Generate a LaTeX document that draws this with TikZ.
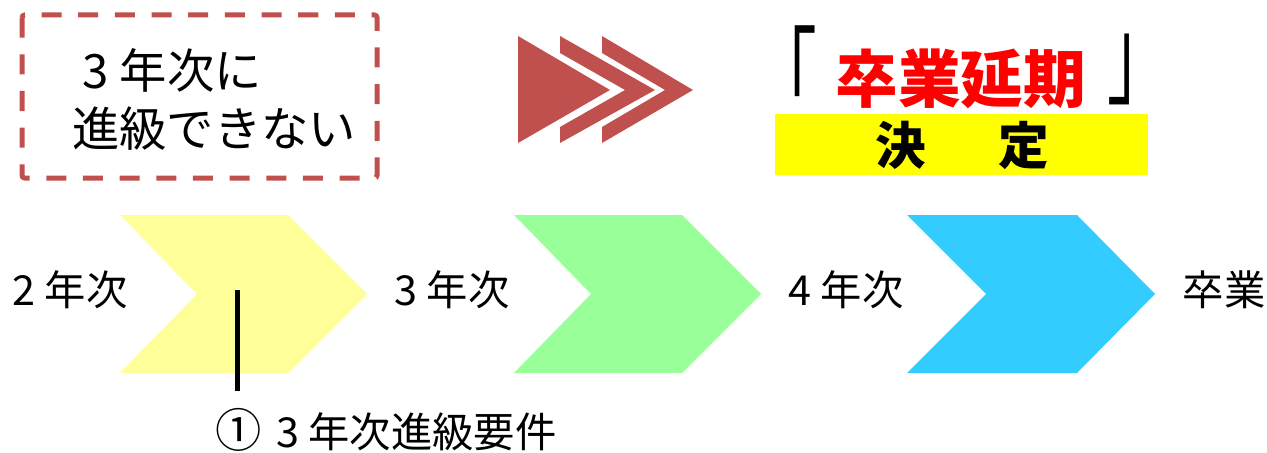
\documentclass[tikz,border=0pt]{standalone}
\usepackage{fontspec}
\setmainfont{Noto Sans CJK JP}
\definecolor{accred}{HTML}{C0504D}
\definecolor{chyel}{HTML}{FFFF99}
\definecolor{chgrn}{HTML}{99FF99}
\definecolor{chblu}{HTML}{33CCFF}
\definecolor{hiyel}{HTML}{FFFF00}
\definecolor{titred}{HTML}{FF0000}
\begin{document}
\begin{tikzpicture}[x=0.75pt,y=-0.75pt,
  lbl/.style={inner sep=0pt, font=\fontsize{31}{36}\selectfont},
  boxtext/.style={inner sep=0pt, align=left, font=\fontsize{35.5}{43.5}\selectfont},
  dashbox/.style={draw=accred, line width=3.75pt, dash pattern=on 15pt off 12.5pt, rounded corners=2pt},
  arrowfill/.style={fill=accred, draw=none},
  stem/.style={line width=3.75pt, draw=black}]
\useasboundingbox (0,0) rectangle (1267,453);

% dashed box with text
\draw[dashbox] (22,15) rectangle (377,178);
\node[boxtext, anchor=west] (cannot) at (72,99) {\hspace{8pt}3 年次に\\進級できない};

% triple arrow
\fill[arrowfill] (518,36) -- (610,90) -- (518,143) -- cycle;
\fill[arrowfill] (560,36) -- (655,90) -- (560,143) -- (560,127) -- (625,90) -- (560,53) -- cycle;
\fill[arrowfill] (602,36) -- (693,90) -- (602,143) -- (602,127) -- (665,90) -- (602,53) -- cycle;

% title
\node[inner sep=0pt, font=\fontsize{47}{52}\selectfont] (title) at (962,72)
  {\raisebox{-12pt}{\scalebox{1}[1.75]{「}}\hspace{14pt}\textcolor{titred}{\bfseries 卒業延期}\hspace{16pt}\raisebox{5pt}{\scalebox{1}[1.75]{」}}};
\fill[hiyel] (775,114) rectangle (1148,175);
\node[inner sep=0pt, font=\fontsize{38}{42}\selectfont\bfseries] (decided) at (962,145) {決\hspace{54pt}定};

% chevrons
\fill[chyel] (120,215) -- (288,215) -- (367,294) -- (288,373) -- (120,373) -- (197,294) -- cycle;
\fill[chgrn] (514,215) -- (682,215) -- (761,294) -- (682,373) -- (514,373) -- (591,294) -- cycle;
\fill[chblu] (907,215) -- (1077,215) -- (1155,294) -- (1077,373) -- (907,373) -- (986,294) -- cycle;

% year labels
\node[lbl] (y2) at (70,290) {2 年次};
\node[lbl] (y3) at (452,290) {3 年次};
\node[lbl] (y4) at (846,290) {4 年次};
\node[lbl] (grad) at (1224,290) {卒業};

% requirement label and stem
\coordinate (stemtop) at (237,290);
\coordinate (stembot) at (237,391);
\draw[stem] (stemtop) -- (stembot);
\node[lbl] (req) at (386,430) {\scalebox{1.12}{①}\hspace{4pt} 3 年次進級要件};
\end{tikzpicture}
\end{document}
